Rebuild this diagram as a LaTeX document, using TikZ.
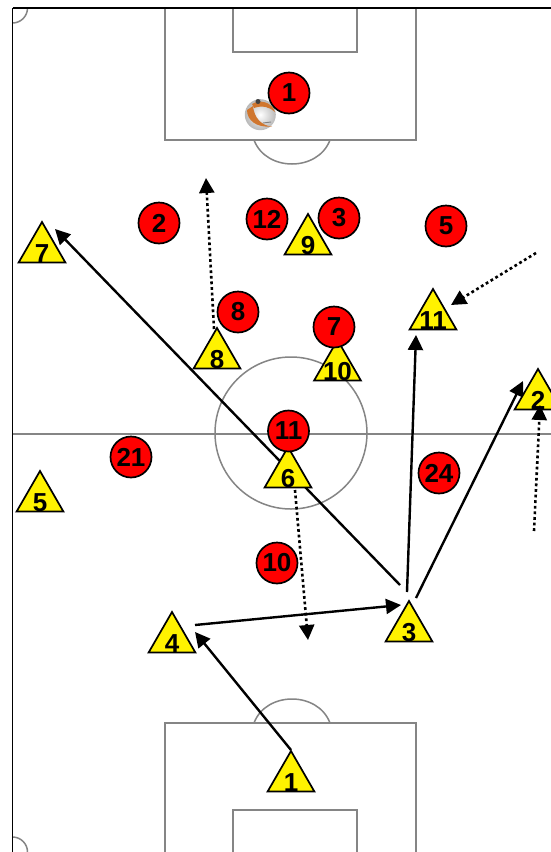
\documentclass[tikz,border=0pt]{standalone}
\usepackage{fontspec}
\setmainfont{Liberation Sans}
\usetikzlibrary{shapes.geometric,arrows.meta}
\definecolor{fieldline}{HTML}{858585}
\definecolor{ballorange}{HTML}{D0762E}
\tikzset{
 fieldmark/.style={draw=fieldline,line width=1.5pt},
 border/.style={draw=black,line width=1.2pt},
 redplayer/.style={circle,draw=black,line width=1.7pt,fill=red,minimum size=41pt,inner sep=0pt,font=\bfseries\fontsize{26}{26}\selectfont},
 yellowplayer/.style={regular polygon,regular polygon sides=3,draw=black,line width=1.7pt,fill=yellow,minimum size=54pt,inner sep=0pt,font=\bfseries\fontsize{26}{26}\selectfont},
 run/.style={draw=black,line width=2.4pt,-{Triangle[length=15pt,width=15pt]}},
 dotrun/.style={draw=black,line width=2.6pt,dash pattern=on 2.8pt off 2.8pt,-{Triangle[length=15pt,width=15pt]}},
}
\newcommand{\yd}[1]{\raisebox{-13pt}[0pt][0pt]{\makebox[0pt]{#1}}}
\begin{document}
\begin{tikzpicture}[x=1pt,y=-1pt]
\useasboundingbox (0,0) rectangle (551,852);
\fill[white] (0,0) rectangle (551,852);
% field
\draw[fieldmark] (165,8) -- (165,140) -- (416,140) -- (416,8);
\draw[fieldmark] (233,8) -- (233,52) -- (357,52) -- (357,8);
\draw[fieldmark] (254,140) .. controls (266,172) and (318,172) .. (330,140);
\draw[fieldmark] (165,852) -- (165,723) -- (416,723) -- (416,852);
\draw[fieldmark] (233,852) -- (233,810) -- (357,810) -- (357,852);
\draw[fieldmark] (254,723) .. controls (266,691) and (318,691) .. (330,723);
\draw[fieldmark] (12.5,434) -- (551,434);
\draw[fieldmark] (291,433) circle[radius=76];
\draw[fieldmark] (12.5,23) arc[start angle=90,end angle=0,radius=15] ;
\draw[fieldmark] (12.5,837) arc[start angle=-90,end angle=0,radius=15];
\draw[border] (12.5,8) -- (551,8);
\draw[border] (12.5,8) -- (12.5,852);
% connector ends
\coordinate (a7) at (400,585); \coordinate (b7) at (55,229);
\coordinate (a11) at (407,592); \coordinate (b11) at (416,335);
\coordinate (a2) at (416,598); \coordinate (b2) at (523,381);
\coordinate (a3) at (195,625); \coordinate (b3) at (401,605);
\coordinate (a4) at (291,750); \coordinate (b4) at (195,632);
\coordinate (d1a) at (214,329); \coordinate (d1b) at (206,178);
\coordinate (d2a) at (536,253); \coordinate (d2b) at (451,305);
\coordinate (d3a) at (534,531); \coordinate (d3b) at (540,405);
\coordinate (d4a) at (295,490); \coordinate (d4b) at (308,640);
\draw[run] (a7) -- (b7);
\draw[run] (a11) -- (b11);
\draw[run] (a2) -- (b2);
\draw[run] (a3) -- (b3);
\draw[run] (a4) -- (b4);
% yellow
\node[yellowplayer] (y7) at (42,249) {\yd{7}};
\node[yellowplayer] (y8) at (217,355) {\yd{8}};
\node[yellowplayer] (y9) at (308,241) {\yd{9}};
\node[yellowplayer] (y10) at (337.5,367) {\yd{10}};
\node[yellowplayer] (y11) at (433,316) {\yd{11}};
\node[yellowplayer] (y2) at (538,396) {\yd{2}};
\node[yellowplayer] (y6) at (288,474) {\yd{6}};
\node[yellowplayer] (y5) at (40,498) {\yd{5}};
\node[yellowplayer] (y4) at (172,639) {\yd{4}};
\node[yellowplayer] (y3) at (409,628) {\yd{3}};
\node[yellowplayer] (y1) at (291,778) {\yd{1}};
\draw[dotrun] (d1a) -- (d1b);
\draw[dotrun] (d2a) -- (d2b);
\draw[dotrun] (d3a) -- (d3b);
\draw[dotrun] (d4a) -- (d4b);
% ball
\shade[inner color=white,middle color=white!90!gray,outer color=gray!55] (260.3,114.7) circle[radius=15.5];
\fill[ballorange] (247,110) .. controls (247,120) and (256,128) .. (272,126.5)
  .. controls (262,126) and (254,118) .. (253,106) -- cycle;
\fill[ballorange] (252,104) .. controls (260,99) and (272,102) .. (275,112)
  .. controls (270,107) and (262,105) .. (254,108) -- cycle;
\fill[black!75] (258,101.5) circle[radius=2.5];
\draw[gray,line width=.9pt] (263,123) -- (271,122);
% red
\node[redplayer] (r1) at (289,93) {1};
\node[redplayer] (r2) at (159,223) {2};
\node[redplayer] (r12) at (267,219) {12};
\node[redplayer] (r3) at (339,218) {3};
\node[redplayer] (r5) at (446,226) {5};
\node[redplayer] (r8) at (238,312) {8};
\node[redplayer] (r7) at (334,327) {7};
\node[redplayer] (r11) at (288.5,431) {11};
\node[redplayer] (r21) at (131,457) {21};
\node[redplayer] (r24) at (439,473) {24};
\node[redplayer] (r10) at (277,563) {10};
\end{tikzpicture}
\end{document}
